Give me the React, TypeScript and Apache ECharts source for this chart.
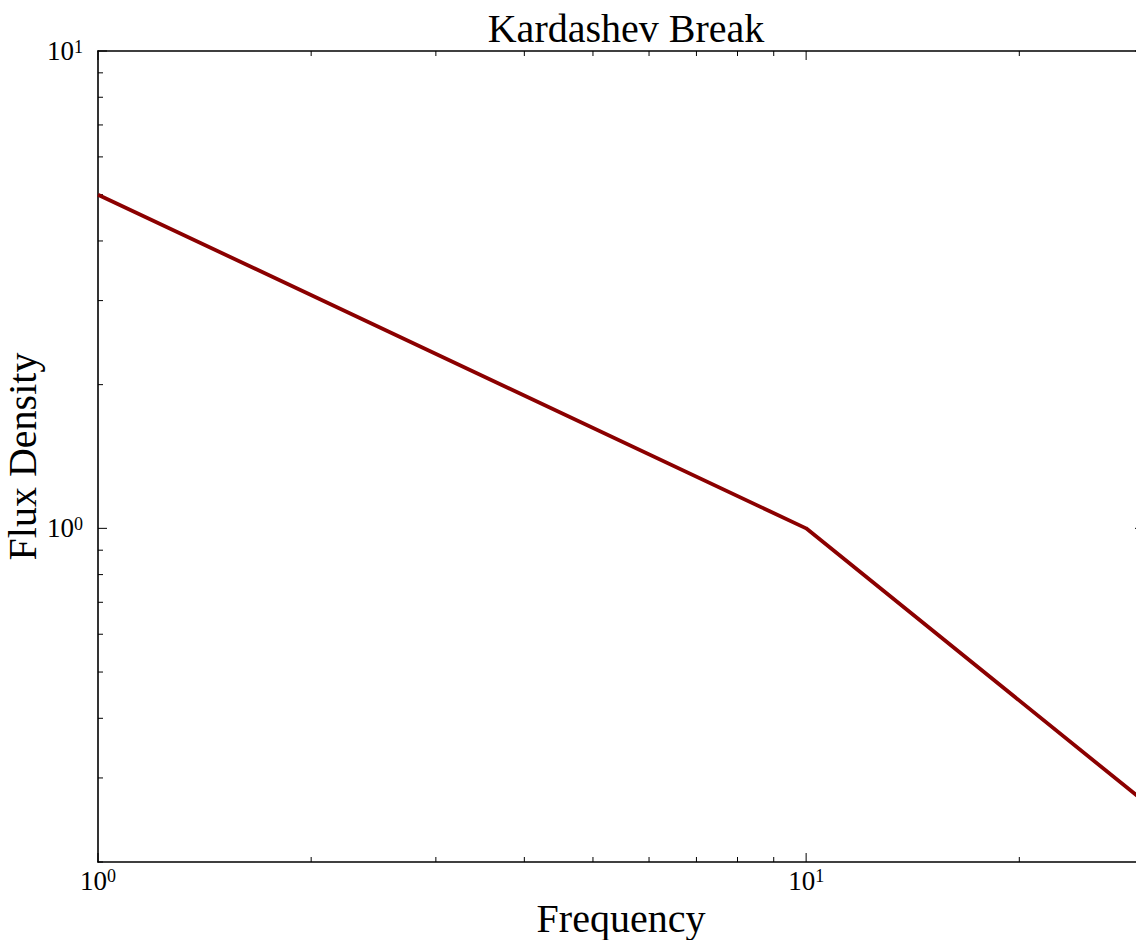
import React, { useEffect, useRef } from "react";
import * as echarts from "echarts";

// ---- data ----
const frequency = [1, 10, 30];
const fluxDensity = [5, 1, 0.268];
const xRange = [1, 30];
const yRange = [0.2, 10];
const xMajorTicks = [1, 10];
const xMinorTicks = [2, 3, 4, 5, 6, 7, 8, 9, 20, 30];
const yMajorTicks = [1, 10];
const yMinorTicks = [0.2, 0.3, 0.4, 0.5, 0.6, 0.7, 0.8, 0.9, 2, 3, 4, 5, 6, 7, 8, 9];
const titleText = "Kardashev Break";
const xName = "Frequency";
const yName = "Flux Density";

const FONT = "Liberation Serif";

function powLabel(v: number): string {
  const e = Math.log10(v);
  const r = Math.round(e);
  if (Math.abs(e - r) < 1e-6) return `{b|10}{s|${r}}`;
  return "";
}

const richLabel = {
  b: { fontSize: 27, fontFamily: FONT, color: "#000", lineHeight: 27 },
  s: { fontSize: 18, fontFamily: FONT, color: "#000", lineHeight: 27, verticalAlign: "top" as const },
};

export default function App() {
  const ref = useRef<HTMLDivElement>(null);

  useEffect(() => {
    if (!ref.current) return;
    const chart = echarts.init(ref.current, undefined, { renderer: "svg" });

    const tickItems: number[][] = [
      ...xMajorTicks.map((v) => [v, yRange[0], 0, 1]),
      ...xMinorTicks.map((v) => [v, yRange[0], 0, 0]),
      ...yMajorTicks.map((v) => [xRange[0], v, 1, 1]),
      ...yMinorTicks.map((v) => [xRange[0], v, 1, 0]),
    ];

    const axisLine = { show: true, lineStyle: { color: "#000", width: 1.6 } };

    chart.setOption({
      animation: false,
      backgroundColor: "#fff",
      title: {
        text: titleText,
        left: 621,
        textAlign: "center",
        top: 3,
        textStyle: { fontFamily: FONT, fontSize: 40, fontWeight: "normal", color: "#000" },
      },
      grid: {
        left: 98,
        top: 51,
        width: 1046,
        height: 811,
        containLabel: false,
        outerBoundsMode: "none",
      },
      xAxis: [
        {
          type: "log",
          logBase: 10,
          min: xRange[0],
          max: xRange[1],
          position: "bottom",
          axisLine,
          axisTick: { show: false },
          splitLine: { show: false },
          axisLabel: { formatter: powLabel, rich: richLabel, margin: 5, showMaxLabel: false },
          name: xName,
          nameLocation: "middle",
          nameGap: 36,
          nameTextStyle: { fontFamily: FONT, fontSize: 40, color: "#000" },
        },
        {
          type: "log",
          logBase: 10,
          min: xRange[0],
          max: xRange[1],
          position: "top",
          axisLine,
          axisTick: { show: false },
          splitLine: { show: false },
          axisLabel: { show: false },
        },
      ],
      yAxis: [
        {
          type: "log",
          logBase: 10,
          min: yRange[0],
          max: yRange[1],
          position: "left",
          axisLine,
          axisTick: { show: false },
          splitLine: { show: false },
          axisLabel: { formatter: powLabel, rich: richLabel, margin: 15, showMinLabel: false },
          name: yName,
          nameLocation: "middle",
          nameGap: 56,
          nameMoveOverlap: false,
          nameTextStyle: { fontFamily: FONT, fontSize: 40, color: "#000", lineHeight: 40 },
        },
        {
          type: "log",
          logBase: 10,
          min: yRange[0],
          max: yRange[1],
          position: "right",
          axisLine,
          axisTick: { show: false },
          splitLine: { show: false },
          axisLabel: { show: false },
        },
      ],
      series: [
        {
          type: "custom",
          xAxisIndex: 0,
          yAxisIndex: 0,
          clip: false,
          silent: true,
          data: tickItems,
          renderItem: (_params: any, api: any) => {
            const xv = api.value(0);
            const yv = api.value(1);
            const kind = api.value(2);
            const major = api.value(3);
            const len = major ? 9 : 5;
            const style = { stroke: "#000", lineWidth: 1 };
            if (kind === 0) {
              const b = api.coord([xv, yRange[0]]);
              const t = api.coord([xv, yRange[1]]);
              return {
                type: "group",
                children: [
                  { type: "line", shape: { x1: b[0], y1: b[1], x2: b[0], y2: b[1] - len }, style },
                  { type: "line", shape: { x1: t[0], y1: t[1], x2: t[0], y2: t[1] + len }, style },
                ],
              };
            }
            const l = api.coord([xRange[0], yv]);
            const r = api.coord([xRange[1], yv]);
            return {
              type: "group",
              children: [
                { type: "line", shape: { x1: l[0], y1: l[1], x2: l[0] + len, y2: l[1] }, style },
                { type: "line", shape: { x1: r[0], y1: r[1], x2: r[0] - len, y2: r[1] }, style },
              ],
            };
          },
        },
        {
          type: "line",
          xAxisIndex: 0,
          yAxisIndex: 0,
          data: frequency.map((f, i) => [f, fluxDensity[i]]),
          showSymbol: false,
          symbol: "none",
          lineStyle: { color: "#8b0000", width: 3.8 },
          z: 5,
        },
      ],
    });

    return () => chart.dispose();
  }, []);

  return (
    <div
      ref={ref}
      style={{ position: "fixed", left: 0, top: 0, width: 1180, height: 940, background: "#fff" }}
    />
  );
}
